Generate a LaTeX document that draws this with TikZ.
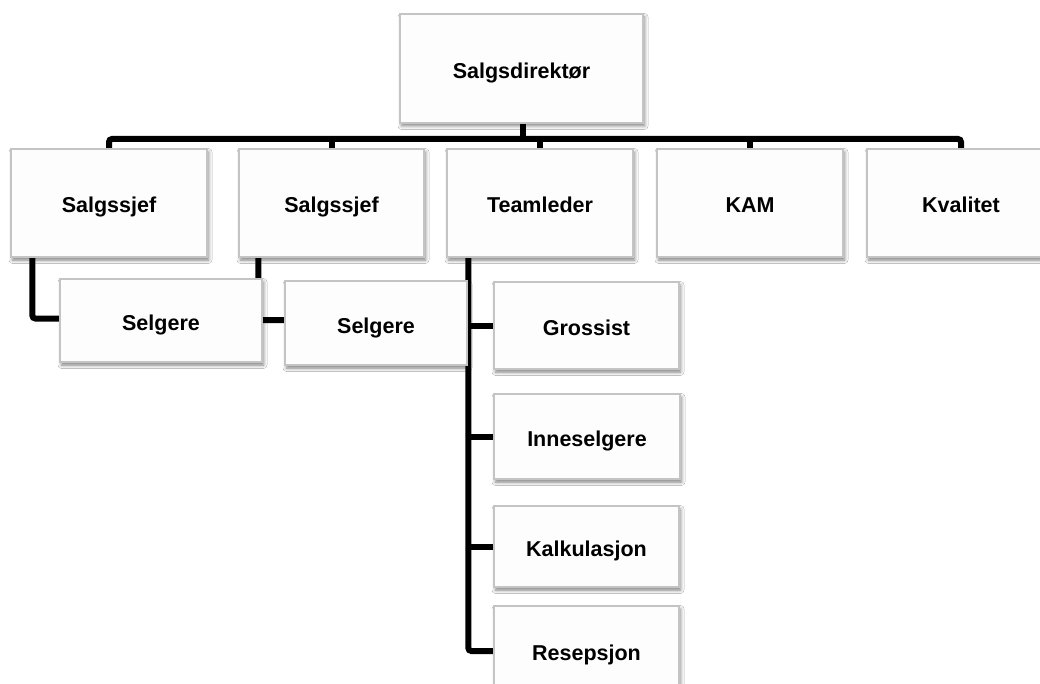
\documentclass[tikz,border=0pt]{standalone}
\usepackage{fontspec}
\setmainfont{Liberation Sans}
\usetikzlibrary{shadows.blur,backgrounds}
\definecolor{boxborder}{RGB}{196,196,196}
\definecolor{boxfill}{RGB}{253,253,253}
\tikzset{
  orgbox/.style={draw=boxborder, line width=1.3pt, fill=boxfill, rectangle,
    inner sep=0pt, text height=21pt, text depth=1pt,
    font=\fontsize{21.5}{26}\selectfont\bfseries,
    blur shadow={shadow xshift=1.5pt, shadow yshift=-3pt, shadow blur radius=3.5pt, shadow opacity=50}},
  conn/.style={line width=6pt, black, rounded corners=3pt, line cap=butt}
}
\begin{document}
\begin{tikzpicture}[x=1pt,y=-1pt]
\useasboundingbox (0,0) rectangle (1040,684);
\clip (0,0) rectangle (1040,684);
\node[orgbox, minimum width=243pt, minimum height=109pt] (dir) at (521.5,68.5) {Salgsdirektør};
\node[orgbox, minimum width=196pt, minimum height=108pt] (s1) at (109,203) {Salgssjef};
\node[orgbox, minimum width=185pt, minimum height=108pt] (s2) at (331.5,203) {Salgssjef};
\node[orgbox, minimum width=186pt, minimum height=108pt] (team) at (540,203) {Teamleder};
\node[orgbox, minimum width=186pt, minimum height=108pt] (kam) at (750,203) {KAM};
\node[orgbox, minimum width=188pt, minimum height=108pt] (kval) at (961,203) {Kvalitet};
\node[orgbox, minimum width=202pt, minimum height=83pt] (sel1) at (161,320.5) {Selgere};
\node[orgbox, minimum width=182pt, minimum height=84pt] (sel2) at (376,323) {Selgere};
\node[orgbox, minimum width=185pt, minimum height=87pt] (gros) at (586.5,325.5) {Grossist};
\node[orgbox, minimum width=186pt, minimum height=85pt] (inne) at (587,436.5) {Inneselgere};
\node[orgbox, minimum width=185pt, minimum height=81pt] (kalk) at (586.5,546.5) {Kalkulasjon};
\node[orgbox, minimum width=185pt, minimum height=88pt] (resep) at (586.5,650) {Resepsjon};
\begin{pgfonlayer}{background}
\fill[white] (0,0) rectangle (1040,684);
\coordinate (busy) at (0,139);
\coordinate (tl) at ([xshift=22pt]team.south west);
\draw[conn] (s1.north) -- (s1.north |- busy) -- (kval.north |- busy) -- (kval.north);
\draw[conn] ([xshift=1.5pt]dir.south) -- ([xshift=1.5pt]dir.south |- busy);
\draw[conn] (s2.north) -- (s2.north |- busy);
\draw[conn] (team.north) -- (team.north |- busy);
\draw[conn] (kam.north) -- (kam.north |- busy);
\draw[conn] ([xshift=22pt]s1.south west) |- ([yshift=2pt]sel1.west);
\draw[conn] ([xshift=20pt]s2.south west) |- ([yshift=3pt]sel2.west);
\draw[conn] (tl) |- ([yshift=-1pt]resep.west);
\draw[conn] (gros.west) -- (gros.west -| tl);
\draw[conn] (inne.west) -- (inne.west -| tl);
\draw[conn] (kalk.west) -- (kalk.west -| tl);
\end{pgfonlayer}
\end{tikzpicture}
\end{document}
